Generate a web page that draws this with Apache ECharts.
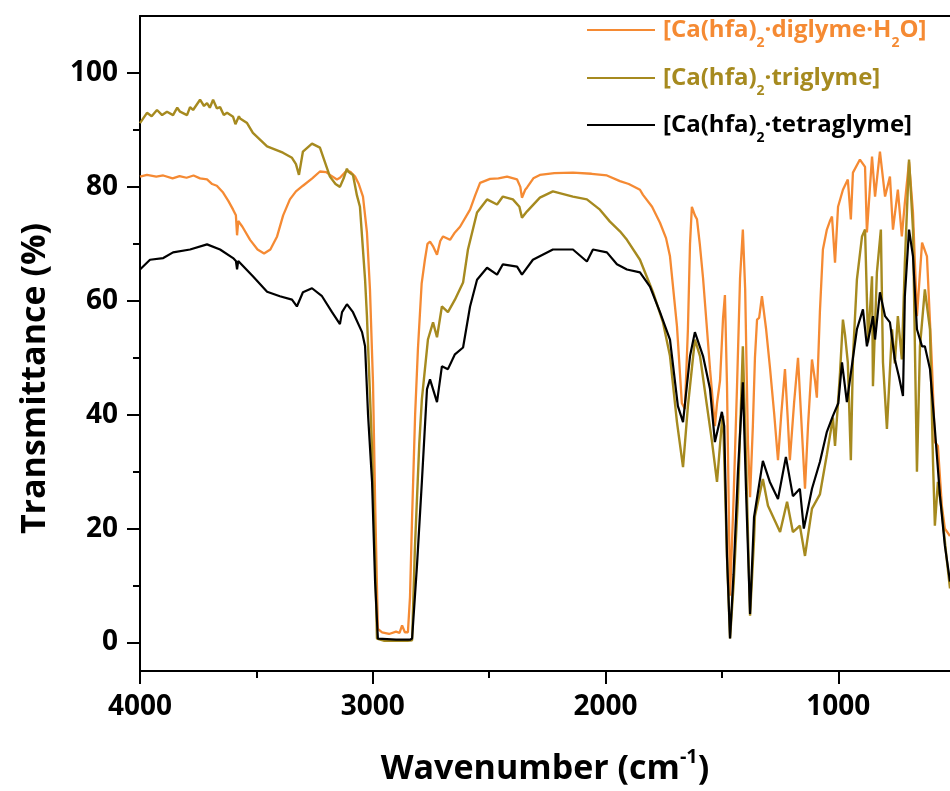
<!DOCTYPE html>
<html><head><meta charset="utf-8">
<script src="https://cdn.jsdelivr.net/npm/echarts@6/dist/echarts.min.js"></script>
<style>html,body{margin:0;padding:0;background:#fff}#c{width:950px;height:791px}</style>
</head><body><div id="c"></div>
<script>
const xTicks = [1000, 2000, 3000, 4000];
const xMinorTicks = [1500, 2500, 3500];
const yTicks = [0, 20, 40, 60, 80, 100];
const yMinorTicks = [10, 30, 50, 70, 90];
const seriesNames = ['[Ca(hfa)2·diglyme·H2O]', '[Ca(hfa)2·triglyme]', '[Ca(hfa)2·tetraglyme]'];

const diglyme = [
[4000,81.8],[3970,82.1],[3930,81.8],[3900,82.0],[3860,81.5],[3830,81.9],[3800,81.6],[3770,82.0],[3742,81.5],[3712,81.3],[3690,80.5],[3670,80.2],[3643,79.0],[3620,77.5],[3600,76.0],[3588,75.0],[3583,71.5],[3578,74.0],[3560,73.0],[3527,70.7],[3495,69.0],[3467,68.3],[3440,69.0],[3411,71.3],[3385,75.0],[3356,77.8],[3330,79.2],[3300,80.2],[3260,81.5],[3227,82.7],[3200,82.6],[3184,82.1],[3154,81.3],[3141,81.6],[3111,82.9],[3095,82.6],[3076,81.8],[3060,80.5],[3042,78.3],[3025,72.0],[3012,62.0],[2999,45.7],[2990,25.0],[2978,2.4],[2960,1.8],[2930,1.5],[2900,1.9],[2885,1.7],[2874,3.0],[2862,1.8],[2849,1.8],[2840,8.0],[2831,22.0],[2818,40.0],[2806,51.5],[2790,63.0],[2776,67.2],[2765,70.0],[2754,70.4],[2740,69.5],[2724,68.1],[2710,70.5],[2698,71.3],[2668,70.7],[2647,72.0],[2625,73.0],[2582,76.0],[2560,78.5],[2539,80.7],[2496,81.4],[2460,81.5],[2423,81.8],[2380,81.3],[2366,80.0],[2359,78.1],[2345,79.5],[2337,79.9],[2310,81.5],[2282,82.1],[2220,82.4],[2140,82.5],[2060,82.3],[1994,82.0],[1938,81.0],[1900,80.5],[1852,79.5],[1839,78.6],[1800,76.5],[1766,73.7],[1740,71.0],[1723,67.8],[1693,55.5],[1672,42.0],[1659,41.0],[1646,55.0],[1637,70.0],[1629,76.5],[1616,75.0],[1607,74.3],[1595,70.0],[1581,64.0],[1564,55.0],[1551,48.0],[1530,38.0],[1521,42.0],[1508,46.0],[1495,57.0],[1487,61.0],[1478,45.0],[1465,8.2],[1450,25.0],[1435,45.0],[1422,64.0],[1410,72.5],[1400,62.0],[1388,35.0],[1379,25.5],[1367,38.0],[1358,50.0],[1349,56.7],[1340,57.0],[1328,60.8],[1310,55.0],[1294,48.5],[1275,40.0],[1259,32.0],[1245,40.0],[1229,48.0],[1218,40.0],[1208,32.0],[1190,42.0],[1173,50.0],[1160,40.0],[1143,27.0],[1130,38.0],[1113,49.7],[1100,46.0],[1092,43.0],[1079,58.0],[1066,69.0],[1049,72.5],[1036,74.0],[1027,74.8],[1014,66.7],[1001,76.5],[980,79.5],[959,81.3],[946,74.3],[937,82.5],[907,84.8],[885,83.5],[877,72.0],[855,85.3],[842,78.3],[821,86.2],[799,78.3],[778,81.8],[765,72.5],[744,79.5],[727,71.3],[714,77.2],[696,84.4],[679,75.5],[662,57.3],[640,70.2],[619,67.8],[598,49.2],[585,35.2],[572,34.5],[555,24.0],[542,20.0],[520,18.7]
];

const triglyme = [
[4000,91.2],[3970,93.0],[3950,92.4],[3927,93.5],[3905,92.6],[3884,93.2],[3858,92.6],[3840,93.9],[3828,93.2],[3798,92.6],[3785,94.0],[3772,93.5],[3742,95.3],[3725,94.2],[3712,94.7],[3700,93.9],[3686,95.3],[3670,93.8],[3656,94.0],[3640,92.6],[3626,93.0],[3600,92.3],[3590,91.0],[3583,90.9],[3575,92.4],[3570,92.0],[3540,91.2],[3515,89.5],[3454,87.1],[3386,86.0],[3347,85.1],[3330,84.0],[3317,82.1],[3300,86.2],[3261,87.6],[3227,86.9],[3184,81.8],[3160,80.5],[3141,80.0],[3125,81.5],[3111,83.2],[3106,82.7],[3085,82.1],[3068,78.5],[3055,76.5],[3033,63.7],[3025,57.3],[3003,34.0],[2990,15.0],[2982,0.7],[2950,0.3],[2900,0.3],[2850,0.3],[2831,0.4],[2819,16.5],[2800,35.0],[2789,42.7],[2763,53.2],[2741,56.2],[2724,53.6],[2703,59.0],[2677,58.0],[2647,60.2],[2612,63.2],[2591,69.0],[2552,75.5],[2509,77.8],[2466,76.9],[2441,78.3],[2398,77.8],[2370,76.5],[2359,74.6],[2337,75.7],[2282,78.1],[2226,79.2],[2140,78.3],[2080,77.8],[2024,76.0],[1981,73.9],[1938,72.2],[1908,70.7],[1852,67.2],[1796,61.5],[1753,56.2],[1723,50.3],[1693,38.7],[1667,30.8],[1646,41.5],[1616,53.2],[1594,50.3],[1564,41.5],[1543,35.4],[1521,28.2],[1500,38.7],[1495,39.8],[1478,15.0],[1465,0.7],[1450,10.0],[1431,25.2],[1410,52.0],[1395,30.0],[1379,4.7],[1362,18.0],[1358,22.2],[1324,28.7],[1302,24.0],[1250,19.4],[1220,24.7],[1195,19.4],[1165,20.5],[1143,15.2],[1113,23.5],[1079,26.0],[1049,33.0],[1023,39.5],[1014,34.5],[993,47.0],[980,56.7],[971,54.0],[959,49.2],[946,32.0],[937,50.0],[920,63.7],[898,71.3],[885,72.5],[872,52.7],[855,64.3],[851,45.0],[834,65.0],[817,72.5],[808,49.2],[791,37.5],[769,55.0],[757,49.0],[744,57.3],[727,49.7],[714,66.7],[696,84.8],[679,72.5],[662,30.0],[649,52.0],[628,62.0],[606,55.0],[593,31.7],[585,20.5],[572,28.2],[555,23.0],[533,14.2],[520,9.5]
];

const tetraglyme = [
[4000,65.5],[3957,67.2],[3900,67.5],[3858,68.5],[3785,69.0],[3712,69.9],[3656,69.0],[3600,67.5],[3588,67.0],[3583,65.5],[3578,67.0],[3570,66.9],[3515,64.3],[3454,61.6],[3399,60.8],[3347,60.2],[3326,59.0],[3300,61.5],[3261,62.2],[3218,60.8],[3175,58.0],[3141,55.9],[3132,58.0],[3111,59.4],[3085,58.0],[3046,54.5],[3033,52.0],[3020,39.8],[3003,28.2],[2990,10.7],[2978,0.7],[2900,0.5],[2840,0.5],[2831,0.7],[2810,13.5],[2789,28.2],[2767,44.5],[2754,46.2],[2724,42.2],[2703,48.5],[2677,48.0],[2647,50.6],[2612,51.8],[2582,59.0],[2552,63.7],[2509,65.8],[2466,64.6],[2441,66.4],[2380,66.0],[2359,64.6],[2312,67.2],[2226,69.0],[2140,69.0],[2080,66.9],[2054,69.0],[1994,68.5],[1951,66.4],[1908,65.5],[1852,65.0],[1809,62.5],[1766,58.0],[1723,53.2],[1689,41.5],[1667,38.7],[1637,50.3],[1616,54.5],[1581,50.3],[1551,44.5],[1530,35.2],[1500,40.5],[1490,38.0],[1478,15.0],[1465,0.7],[1450,12.0],[1431,30.0],[1410,45.7],[1395,25.0],[1379,5.0],[1362,22.0],[1324,31.9],[1294,28.2],[1259,25.2],[1225,32.6],[1195,25.7],[1165,27.0],[1148,20.0],[1113,27.0],[1079,31.7],[1049,37.0],[1023,39.8],[1000,42.0],[984,49.2],[963,42.2],[920,55.0],[894,58.5],[877,52.0],[851,57.3],[842,53.2],[821,61.5],[799,57.3],[778,56.2],[757,49.7],[740,46.8],[722,43.3],[714,60.8],[696,72.5],[679,67.8],[662,55.0],[640,52.0],[628,52.0],[606,48.0],[585,37.5],[563,25.7],[542,17.0],[520,10.7]
];

const colors = ['#F58A33', '#A68A1F', '#000000'];
const FONT = '"Open Sans", "Noto Sans", sans-serif';

function legendFor(i, top) {
  const c = colors[i];
  return {
    data: [seriesNames[i]], left: 587, top: top, padding: 0,
    icon: 'rect', itemWidth: 68, itemHeight: 2, selectedMode: false,
    formatter: function (name) {
      const parts = name.split('2');
      let out = '';
      parts.forEach(function (p, k) {
        if (p) out += '{t|' + p + '}';
        if (k < parts.length - 1) out += '{s|2}';
      });
      return out;
    },
    textStyle: {
      padding: [0, 0, 0, 3],
      rich: {
        t: { fontFamily: FONT, fontWeight: 'bold', fontSize: 24, color: c, lineHeight: 40, verticalAlign: 'middle' },
        s: { fontFamily: FONT, fontWeight: 'bold', fontSize: 14, color: c, lineHeight: 6, verticalAlign: 'bottom' }
      }
    }
  };
}

const axisLineStyle = { color: '#000', width: 2 };
const plainNum = function (v) { return String(v); };
const chart = echarts.init(document.getElementById('c'), null, { renderer: 'canvas' });
chart.setOption({
  animation: false,
  backgroundColor: '#fff',
  grid: { left: 140, right: 0, top: 16, bottom: 118, containLabel: false },
  legend: [legendFor(0, 18), legendFor(1, 66), legendFor(2, 113)],
  xAxis: [
    {
      type: 'value', inverse: true, min: 520, max: 4000, position: 'bottom',
      splitLine: { show: false },
      axisLine: { show: true, onZero: false, lineStyle: axisLineStyle },
      axisTick: { show: true, inside: false, length: 13, lineStyle: { width: 2, color: '#000' }, customValues: xTicks },
      axisLabel: { show: true, customValues: xTicks, formatter: plainNum, margin: 19, fontFamily: FONT, fontWeight: 'bold', fontSize: 28, color: '#000', lineHeight: 34 },
      name: '{t|Wavenumber (cm}{p|-1}{t|)}',
      nameLocation: 'middle', nameGap: 76,
      nameTextStyle: {
        rich: {
          t: { fontFamily: FONT, fontWeight: 'bold', fontSize: 34, color: '#000', lineHeight: 44, verticalAlign: 'middle' },
          p: { fontFamily: FONT, fontWeight: 'bold', fontSize: 20, color: '#000', lineHeight: 8, verticalAlign: 'top' }
        }
      }
    },
    {
      type: 'value', inverse: true, min: 520, max: 4000, position: 'bottom',
      splitLine: { show: false },
      axisLine: { show: false, onZero: false },
      axisTick: { show: true, inside: false, length: 7, lineStyle: { width: 2, color: '#000' }, customValues: xMinorTicks },
      axisLabel: { show: false }
    },
    {
      type: 'value', inverse: true, min: 520, max: 4000, position: 'top',
      splitLine: { show: false },
      axisLine: { show: true, onZero: false, lineStyle: axisLineStyle },
      axisTick: { show: false }, axisLabel: { show: false }
    }
  ],
  yAxis: [
    {
      type: 'value', min: -5, max: 110, position: 'left',
      splitLine: { show: false },
      axisLine: { show: true, onZero: false, lineStyle: axisLineStyle },
      axisTick: { show: true, inside: false, length: 13, lineStyle: { width: 2, color: '#000' }, customValues: yTicks },
      axisLabel: { show: true, customValues: yTicks, formatter: plainNum, margin: 22, fontFamily: FONT, fontWeight: 'bold', fontSize: 28, color: '#000' },
      name: 'Transmittance (%)', nameLocation: 'middle', nameGap: 88, nameRotate: 90,
      nameTextStyle: { fontFamily: FONT, fontWeight: 'bold', fontSize: 34, color: '#000', padding: [0, 70, 0, 0] }
    },
    {
      type: 'value', min: -5, max: 110, position: 'left',
      splitLine: { show: false },
      axisLine: { show: false, onZero: false },
      axisTick: { show: true, inside: false, length: 7, lineStyle: { width: 2, color: '#000' }, customValues: yMinorTicks },
      axisLabel: { show: false }
    }
  ],
  series: [
    { name: seriesNames[0], type: 'line', data: diglyme, showSymbol: false, symbol: 'none', lineStyle: { color: colors[0], width: 2.3 }, itemStyle: { color: colors[0] }, z: 2 },
    { name: seriesNames[1], type: 'line', data: triglyme, showSymbol: false, symbol: 'none', lineStyle: { color: colors[1], width: 2.4 }, itemStyle: { color: colors[1] }, z: 3 },
    { name: seriesNames[2], type: 'line', data: tetraglyme, showSymbol: false, symbol: 'none', lineStyle: { color: colors[2], width: 2.2 }, itemStyle: { color: colors[2] }, z: 4 }
  ]
});
</script>
</body></html>
